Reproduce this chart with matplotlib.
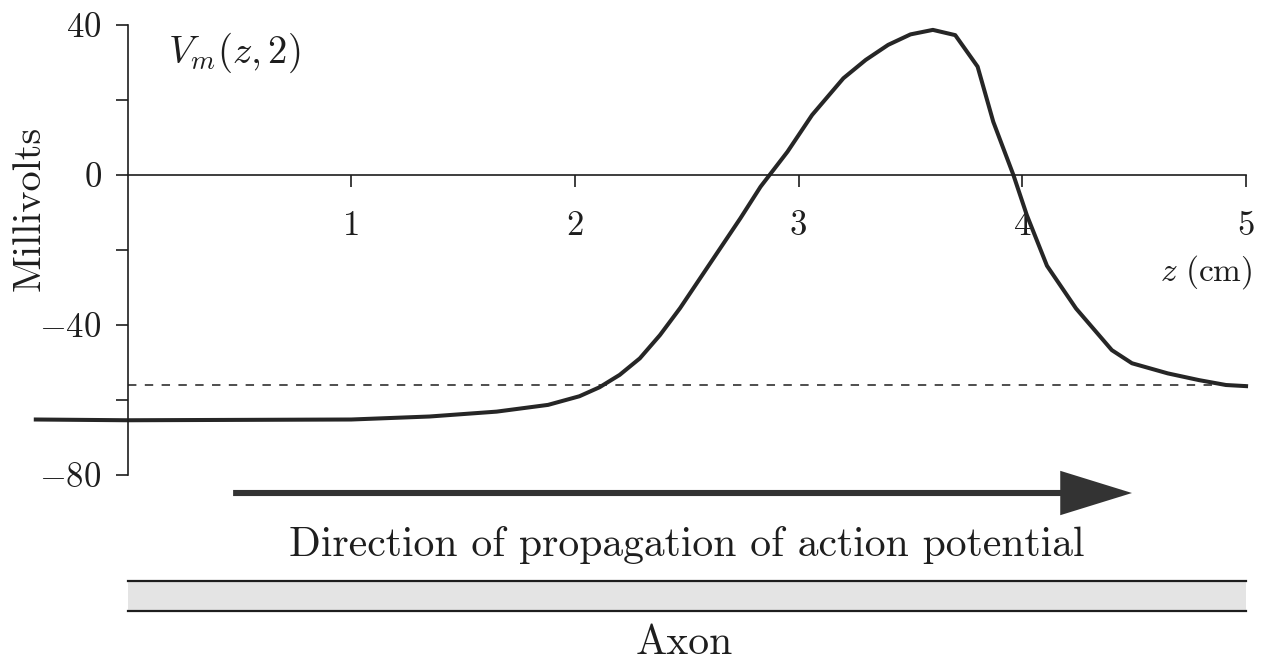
import matplotlib
matplotlib.use("Agg")
import matplotlib.pyplot as plt

plt.rcParams["font.family"] = ["cmr10", "DejaVu Serif"]
plt.rcParams["mathtext.fontset"] = "cm"
plt.rcParams["axes.unicode_minus"] = False

# Membrane potential along the axon at t = 2 ms
z_cm = [-0.41, 0.0, 0.5, 1.0, 1.35, 1.65, 1.88, 2.02, 2.11, 2.20, 2.29, 2.38,
        2.47, 2.56, 2.65, 2.74, 2.83, 2.95, 3.06, 3.20, 3.30, 3.40, 3.50,
        3.60, 3.70, 3.80, 3.87, 3.96, 4.02, 4.11, 4.24, 4.40, 4.49, 4.65,
        4.79, 4.91, 5.0]
v_mv = [-65.2, -65.4, -65.3, -65.2, -64.4, -63.1, -61.3, -59.0, -56.6, -53.3,
        -48.9, -42.7, -35.5, -27.5, -19.5, -11.5, -3.1, 6.2, 16.0, 25.8,
        30.7, 34.7, 37.5, 38.7, 37.3, 28.9, 14.2, 0.0, -10.7, -24.2, -35.6,
        -46.7, -50.2, -52.9, -54.7, -56.0, -56.3]

threshold_mv = -56.0
x_ticks = [1, 2, 3, 4, 5]
x_tick_labels = ["1", "2", "3", "4", "5"]
y_ticks = [-80, -60, -40, -20, 0, 20, 40]
y_tick_labels = [r"$-80$", "", r"$-40$", "", r"$0$", "", r"$40$"]

ink = "#1e1e1e"

fig = plt.figure(figsize=(12.70, 6.64), dpi=100)
ax = fig.add_axes([0, 0, 1, 1])
ax.patch.set_visible(False)
ax.set_xlim(-0.570, 5.107)
ax.set_ylim(-130.4, 46.67)

for side in ("top", "right"):
    ax.spines[side].set_visible(False)
ax.spines["left"].set_position(("data", 0))
ax.spines["left"].set_bounds(-80, 40)
ax.spines["bottom"].set_position(("data", 0))
ax.spines["bottom"].set_bounds(0, 5)
for side in ("left", "bottom"):
    ax.spines[side].set_linewidth(1.2)
    ax.spines[side].set_color(ink)

ax.set_xticks(x_ticks)
ax.set_xticklabels(x_tick_labels)
ax.set_yticks(y_ticks)
ax.set_yticklabels(y_tick_labels)
ax.tick_params(axis="both", direction="out", length=8.6, width=1.2,
               color=ink, labelcolor=ink, labelsize=25)
ax.tick_params(axis="x", pad=17)
ax.tick_params(axis="y", pad=10)

# threshold level and the potential profile
ax.plot([0, 5], [threshold_mv, threshold_mv], color=ink, lw=1.1,
        linestyle=(0, (5.5, 5.5)))
ax.plot(z_cm, v_mv, color="#262626", lw=2.9, solid_joinstyle="round")

ax.text(0.181, 29.9, r"$V_m(z,2)$", fontsize=28, ha="left", va="baseline",
        color=ink)
ax.text(5.03, -25.9, r"$z\ \mathrm{(cm)}$", fontsize=24, ha="right",
        va="center", color=ink)
ax.text(-0.436, -8.8, "Millivolts", fontsize=29, rotation=90, ha="center",
        va="center", color=ink)

# propagation arrow
ax.annotate("", xy=(4.49, -84.8), xytext=(0.472, -84.8),
            arrowprops=dict(arrowstyle="-|>,head_length=42,head_width=13",
                            mutation_scale=1, lw=4.4, color="#333333",
                            shrinkA=0, shrinkB=0, joinstyle="miter",
                            capstyle="butt"))
ax.text(2.5, -98.7, "Direction of propagation of action potential",
        fontsize=30, ha="center", va="center", color=ink)

# axon drawn as a shaded band
ax.fill_between([0, 5], -116.3, -108.3, color="#e4e4e4", lw=0)
ax.plot([0, 5], [-108.3, -108.3], color=ink, lw=1.6)
ax.plot([0, 5], [-116.3, -116.3], color=ink, lw=1.6)
ax.text(2.49, -125.0, "Axon", fontsize=30, ha="center", va="center",
        color=ink)

fig.savefig("out.png", dpi=100)
